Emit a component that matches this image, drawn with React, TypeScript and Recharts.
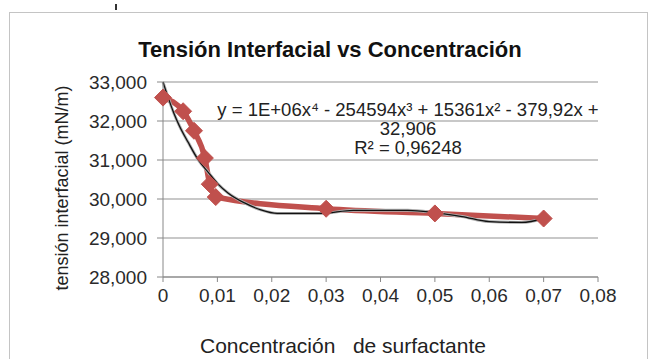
import React from "react";
import {
  LineChart,
  Line,
  XAxis,
  YAxis,
  CartesianGrid,
} from "recharts";

// measured points (concentración, tensión)
const conc = [0, 0.0037, 0.0057, 0.0077, 0.0086, 0.0097, 0.03, 0.05, 0.07];
const tension = [32.6, 32.25, 31.75, 31.05, 30.38, 30.05, 29.75, 29.63, 29.5];

// polynomial trendline
const trendX = [0, 0.001, 0.002, 0.003, 0.0046, 0.0065, 0.0084, 0.01, 0.012, 0.015, 0.018, 0.021, 0.029, 0.035, 0.045, 0.05, 0.055, 0.06, 0.066, 0.07];
const trendY = [33.0, 32.58, 32.2, 31.88, 31.46, 31.0, 30.67, 30.4, 30.15, 29.9, 29.72, 29.63, 29.63, 29.71, 29.71, 29.65, 29.55, 29.42, 29.4, 29.5];

const xTicks = [0, 0.01, 0.02, 0.03, 0.04, 0.05, 0.06, 0.07, 0.08];
const yTicks = [28, 29, 30, 31, 32, 33];

const RED = "#c0504d";
const FONT = "'Liberation Sans', Arial, sans-serif";

const Diamond = (props: any) => {
  const { cx, cy, index } = props;
  if (cx == null || cy == null) return null;
  const r = 8.5;
  return (
    <polygon
      key={`d-${index}`}
      points={`${cx},${cy - r} ${cx + r},${cy} ${cx},${cy + r} ${cx - r},${cy}`}
      fill={RED}
      stroke={RED}
      strokeWidth={1}
    />
  );
};

export default function App() {
  const measured = conc.map((x, i) => ({ x, y: tension[i] }));
  const trend = trendX.map((x, i) => ({ x, y: trendY[i] }));

  return (
    <div
      style={{
        position: "absolute",
        left: 0,
        top: 0,
        width: 657,
        height: 359,
        overflow: "hidden",
        background: "#fff",
        fontFamily: FONT,
      }}
    >
      <div style={{ position: "absolute", left: 115, top: 4, width: 2, height: 6, background: "#333" }} />
      <div
        style={{
          position: "absolute",
          left: 9,
          top: 12,
          width: 637,
          height: 360,
          border: "1px solid #c4c4c4",
        }}
      />
      <div
        style={{
          position: "absolute",
          left: 0,
          width: 660,
          top: 37,
          textAlign: "center",
          fontSize: 22,
          fontWeight: "bold",
          color: "#111",
        }}
      >
        Tensión Interfacial vs Concentración
      </div>

      <LineChart
        width={657}
        height={359}
        margin={{ top: 82, right: 59, bottom: 52, left: 0 }}
        style={{ position: "absolute", left: 0, top: 0 }}
      >
        <CartesianGrid vertical={false} stroke="#c8c8c8" strokeWidth={2} />
        <XAxis
          dataKey="x"
          type="number"
          domain={[0, 0.08]}
          ticks={xTicks}
          height={30}
          tickSize={5}
          tickMargin={7}
          stroke="#888"
          tickFormatter={(v: number) => (v === 0 ? "0" : v.toFixed(2).replace(".", ","))}
          tick={{ fontSize: 19, fill: "#2a2a2a", fontFamily: FONT }}
          allowDuplicatedCategory={false}
        />
        <YAxis
          type="number"
          domain={[28, 33]}
          ticks={yTicks}
          width={163}
          tickSize={6}
          tickMargin={10}
          stroke="#888"
          tickFormatter={(v: number) => v.toFixed(3).replace(".", ",")}
          tick={{ fontSize: 19, fill: "#2a2a2a", fontFamily: FONT }}
        />
        <Line
          data={measured}
          dataKey="y"
          type="monotone"
          stroke={RED}
          strokeWidth={5.5}
          dot={<Diamond />}
          isAnimationActive={false}
        />
        <Line
          data={trend}
          dataKey="y"
          type="monotone"
          stroke="#b0b0b0"
          strokeWidth={3}
          dot={false}
          isAnimationActive={false}
        />
        <Line
          data={trend}
          dataKey="y"
          type="monotone"
          stroke="#111"
          strokeWidth={1.3}
          dot={false}
          isAnimationActive={false}
        />
      </LineChart>

      <div
        style={{
          position: "absolute",
          left: 62,
          top: 188,
          transform: "translate(-50%, -50%) rotate(-90deg)",
          whiteSpace: "nowrap",
          fontSize: 18,
          color: "#222",
        }}
      >
        tensión interfacial (mN/m)
      </div>

      <div
        style={{
          position: "absolute",
          left: 158,
          width: 500,
          top: 100,
          textAlign: "center",
          fontSize: 18.5,
          lineHeight: "19px",
          color: "#222",
        }}
      >
        <div style={{ whiteSpace: "nowrap" }}>
          y = 1E+06x⁴ - 254594x³ + 15361x² - 379,92x +
        </div>
        <div>32,906</div>
        <div>R² = 0,96248</div>
      </div>

      <div
        style={{
          position: "absolute",
          left: 143,
          width: 400,
          top: 334,
          textAlign: "center",
          whiteSpace: "pre",
          fontSize: 21,
          color: "#222",
        }}
      >
        {"Concentración   de surfactante"}
      </div>
    </div>
  );
}
